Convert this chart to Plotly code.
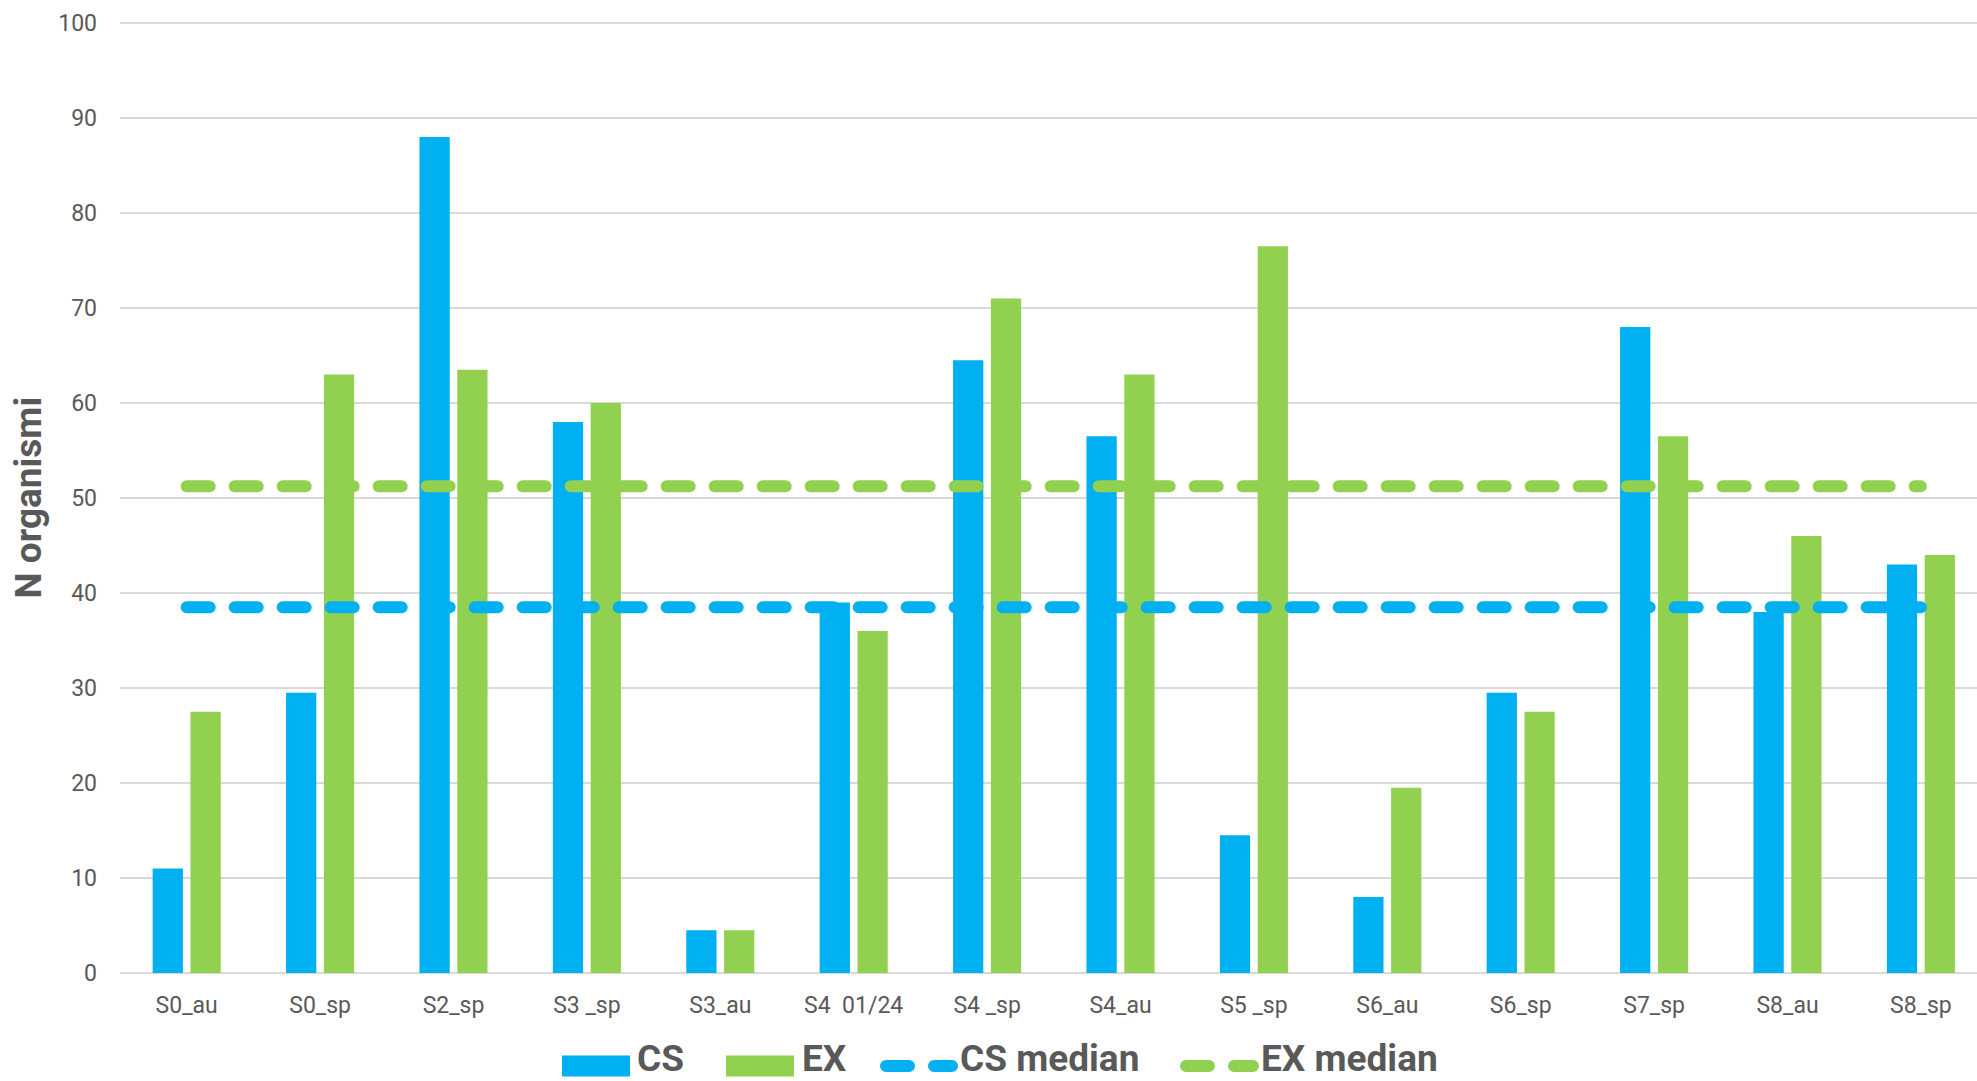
import plotly.graph_objects as go

categories = ["S0_au", "S0_sp", "S2_sp", "S3 _sp", "S3_au", "S4  01/24", "S4 _sp",
              "S4_au", "S5 _sp", "S6_au", "S6_sp", "S7_sp", "S8_au", "S8_sp"]
cs_values = [11, 29.5, 88, 58, 4.5, 39, 64.5, 56.5, 14.5, 8, 29.5, 68, 38, 43]
ex_values = [27.5, 63, 63.5, 60, 4.5, 36, 71, 63, 76.5, 19.5, 27.5, 56.5, 46, 44]
cs_median = [38.5] * len(categories)
ex_median = [51.25] * len(categories)
y_ticks = [0, 10, 20, 30, 40, 50, 60, 70, 80, 90, 100]
series_names = ["CS", "EX", "CS median", "EX median"]

BLUE = "#00B0F0"
GREEN = "#92D050"
TXT = "#595959"
FONT = "Roboto, Liberation Sans, sans-serif"

W, H = 1977, 1081
L, R, T, B = 120, 0, 22, 108
PW, PH = W - L - R, H - T - B


def px_x(px):
    return (px - L) / PW


def px_y(py):
    return (H - B - py) / PH


DASH = "23px,25px"

fig = go.Figure()
fig.add_trace(go.Bar(x=categories, y=cs_values, name=series_names[0],
                     marker=dict(color=BLUE, line=dict(width=0))))
fig.add_trace(go.Bar(x=categories, y=ex_values, name=series_names[1],
                     marker=dict(color=GREEN, line=dict(width=0))))
fig.add_trace(go.Scatter(x=categories, y=cs_median, name=series_names[2], mode="lines",
                         line=dict(color=BLUE, width=12, dash=DASH)))
fig.add_trace(go.Scatter(x=categories, y=ex_median, name=series_names[3], mode="lines",
                         line=dict(color=GREEN, width=12, dash=DASH)))

# custom legend (Excel style: wide swatches)
legend_y = 1066
text_bottom = 1081
LEG_FONT = dict(size=37, color=TXT, family=FONT, weight="bold")
shapes = []
annotations = []
for (x0, x1, tx, col, name) in [(562, 630, 636, BLUE, series_names[0]),
                                (726, 794, 801, GREEN, series_names[1])]:
    shapes.append(dict(type="rect", xref="paper", yref="paper",
                       x0=px_x(x0), x1=px_x(x1), y0=px_y(legend_y + 10.5), y1=px_y(legend_y - 10.5),
                       fillcolor=col, line=dict(width=0), layer="above"))
    annotations.append(dict(xref="paper", yref="paper", x=px_x(tx), y=px_y(text_bottom),
                            xanchor="left", yanchor="bottom", showarrow=False, text=name, borderpad=0,
                            font=LEG_FONT))
for (x0, x1, tx, col, name) in [(886, 952, 959, BLUE, series_names[2]),
                                (1186, 1253, 1260, GREEN, series_names[3])]:
    shapes.append(dict(type="line", xref="paper", yref="paper",
                       x0=px_x(x0), x1=px_x(x1), y0=px_y(legend_y), y1=px_y(legend_y),
                       line=dict(color=col, width=12, dash=DASH), layer="above"))
    annotations.append(dict(xref="paper", yref="paper", x=px_x(tx), y=px_y(text_bottom),
                            xanchor="left", yanchor="bottom", showarrow=False, text=name, borderpad=0,
                            font=LEG_FONT))
annotations.append(dict(xref="paper", yref="paper", x=px_x(28), y=0.5, xanchor="center", yanchor="middle",
                        showarrow=False, text="N organismi", textangle=-90,
                        font=dict(size=37, color=TXT, family=FONT, weight="bold")))

fig.update_layout(
    width=W, height=H,
    margin=dict(l=L, r=R, t=T, b=B, autoexpand=False),
    paper_bgcolor="white", plot_bgcolor="white",
    font=dict(family=FONT, color=TXT, size=23),
    barmode="group", bargap=0.433, bargroupgap=0.2,
    showlegend=False, hovermode=False,
    shapes=shapes, annotations=annotations,
)
fig.update_xaxes(range=[-0.5, -0.5 + PW / 133.4], showgrid=False, showline=False, ticks="",
                 tickfont=dict(size=23, color=TXT), ticklabelstandoff=16, automargin=False)
fig.update_yaxes(range=[0, 100.12], tickvals=y_ticks, showgrid=True, gridcolor="#D9D9D9", gridwidth=1.5,
                 zeroline=True, zerolinecolor="#D9D9D9", zerolinewidth=2, showline=False, ticks="",
                 tickfont=dict(size=23, color=TXT), ticklabelstandoff=22, automargin=False)

post = """
document.body.style.margin = '0';
document.body.style.padding = '0';
document.documentElement.style.overflow = 'hidden';
var gd = document.getElementById('{plot_id}');
function roundCaps(){
  gd.querySelectorAll('path').forEach(function(p){
    var d = p.style.strokeDasharray || p.getAttribute('stroke-dasharray');
    if (d && d !== 'none' && d !== '') { p.style.strokeLinecap = 'round'; }
  });
}
roundCaps();
if (gd.on) { gd.on('plotly_afterplot', roundCaps); }
"""

fig.write_html("out.html", post_script=post, config={"displayModeBar": False})
